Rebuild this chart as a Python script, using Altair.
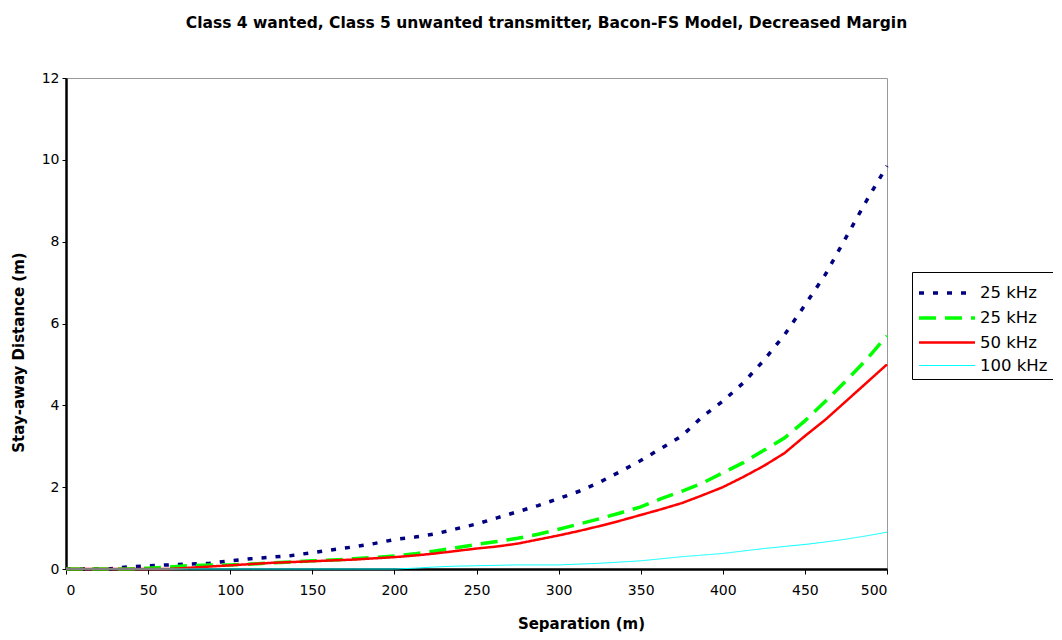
import altair as alt
import pandas as pd

separation = [0, 12.5, 25, 37.5, 50, 62.5, 75, 87.5, 100, 112.5, 125, 137.5, 150, 162.5,
              175, 187.5, 200, 212.5, 225, 237.5, 250, 262.5, 275, 287.5, 300, 312.5,
              325, 337.5, 350, 362.5, 375, 387.5, 400, 412.5, 425, 437.5, 450, 462.5,
              475, 487.5, 500]

blue_25 = [0, 0, 0, 0.05, 0.08, 0.1, 0.12, 0.14, 0.2, 0.25, 0.29, 0.33, 0.4, 0.47,
           0.54, 0.62, 0.72, 0.78, 0.86, 0.98, 1.1, 1.25, 1.4, 1.55, 1.72, 1.9,
           2.12, 2.38, 2.65, 2.95, 3.25, 3.72, 4.1, 4.55, 5.1, 5.72, 6.45, 7.2,
           8.1, 9.0, 9.85]
green_25 = [0, 0, 0, 0, 0.02, 0.05, 0.08, 0.1, 0.1, 0.12, 0.15, 0.17, 0.2, 0.22,
            0.25, 0.28, 0.32, 0.37, 0.44, 0.52, 0.6, 0.67, 0.75, 0.85, 0.97, 1.1,
            1.23, 1.37, 1.52, 1.72, 1.9, 2.1, 2.35, 2.6, 2.9, 3.2, 3.62, 4.1,
            4.6, 5.12, 5.7]
red_50 = [0, 0, 0, 0, 0, 0, 0.03, 0.06, 0.09, 0.12, 0.15, 0.17, 0.19, 0.21,
          0.23, 0.26, 0.29, 0.33, 0.38, 0.44, 0.5, 0.55, 0.62, 0.72, 0.82, 0.93,
          1.05, 1.18, 1.32, 1.46, 1.61, 1.8, 2.0, 2.25, 2.52, 2.83, 3.25, 3.65,
          4.1, 4.55, 5.0]
cyan_100 = [0, 0, 0, 0, 0, 0, 0, 0, 0, 0, 0, 0, 0, 0,
            0, 0, 0, 0.02, 0.05, 0.07, 0.08, 0.09, 0.1, 0.1, 0.1, 0.12,
            0.14, 0.17, 0.2, 0.25, 0.3, 0.34, 0.38, 0.44, 0.5, 0.55, 0.6, 0.66,
            0.73, 0.81, 0.9]

series_ids = ["s1", "s2", "s3", "s4"]
series_labels = ["25 kHz", "25 kHz", "50 kHz", "100 kHz"]
series_values = [blue_25, green_25, red_50, cyan_100]
colors = ["#000080", "#00FF00", "#FF0000", "#00FFFF"]
dashes = [[5, 9], [17, 9], [1, 0], [1, 0]]
widths = [3.5, 3.5, 2.5, 1.0]

rows = []
for sid, vals in zip(series_ids, series_values):
    for x, y in zip(separation, vals):
        rows.append({"series": sid, "sep": x, "dist": y})
df = pd.DataFrame(rows)

label_expr = " : ".join(
    f"datum.value == '{sid}' ? '{lab}'" for sid, lab in zip(series_ids[:-1], series_labels[:-1])
) + f" : '{series_labels[-1]}'"

FONT = "DejaVu Sans"

legend = alt.Legend(
    title=None,
    orient="none",
    legendX=846,
    legendY=194,
    labelExpr=label_expr,
    labelFont=FONT,
    labelFontSize=16.5,
    labelColor="black",
    labelOffset=31,
    strokeColor="black",
    fillColor="white",
    padding=5,
    rowPadding=-2,
    symbolSize=784,
    symbolType="M-1,0H3",
)

chart = alt.Chart(df).mark_line().encode(
    x=alt.X("sep:Q",
            scale=alt.Scale(domain=[0, 500], nice=False),
            axis=alt.Axis(values=[0, 50, 100, 150, 200, 250, 300, 350, 400, 450, 500],
                          title="Separation (m)", titleX=515, titleY=54,
                          titleBaseline="middle", titleAlign="center",
                          labelPadding=9)),
    y=alt.Y("dist:Q",
            scale=alt.Scale(domain=[0, 12], nice=False),
            axis=alt.Axis(values=[0, 2, 4, 6, 8, 10, 12],
                          title="Stay-away Distance (m)", titleX=-48, titleY=274,
                          titleBaseline="middle", titleAlign="center",
                          labelPadding=3, tickSize=4)),
    color=alt.Color("series:N",
                    scale=alt.Scale(domain=series_ids, range=colors),
                    legend=legend),
    strokeDash=alt.StrokeDash("series:N",
                              scale=alt.Scale(domain=series_ids, range=dashes),
                              legend=legend),
    strokeWidth=alt.StrokeWidth("series:N",
                                scale=alt.Scale(type="ordinal", domain=series_ids, range=widths),
                                legend=legend),
    order=alt.Order("sep:Q"),
).properties(
    width=821,
    height=491,
    title=alt.TitleParams(
        "Class 4 wanted, Class 5 unwanted transmitter, Bacon-FS Model, Decreased Margin",
        font=FONT, fontSize=15.5, fontWeight="bold", color="black",
        anchor="middle", dx=70, offset=40),
    padding={"left": 58, "top": 70, "right": 166, "bottom": 63},
    autosize=alt.AutoSizeParams(type="none"),
).configure_view(
    stroke="#999999", strokeWidth=1
).configure_axis(
    grid=False,
    domainColor="black",
    domainWidth=2.5,
    tickColor="black",
    tickSize=5,
    labelFont=FONT,
    labelFontSize=14,
    labelColor="black",
    titleFont=FONT,
    titleFontSize=15,
    titleFontWeight="bold",
    titleColor="black",
)

chart.save("out.html", embed_options={"renderer": "svg", "actions": False})
